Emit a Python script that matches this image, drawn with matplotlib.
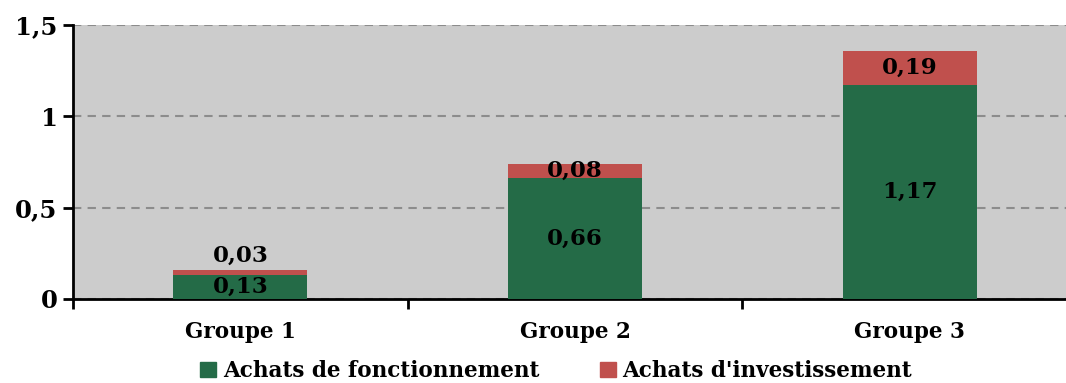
import numpy as np
import matplotlib.pyplot as plt
from matplotlib.patches import Patch

groupes = ['Groupe 1', 'Groupe 2', 'Groupe 3']
fonctionnement = [0.13, 0.66, 1.17]
investissement = [0.03, 0.08, 0.19]
lab_fonct = ['0,13', '0,66', '1,17']
lab_invest = ['0,03', '0,08', '0,19']
yticks = [0, 0.5, 1, 1.5]
ytick_labels = ['0', '0,5', '1', '1,5']

vert = '#246b47'
rouge = '#c0504d'
police = 'DejaVu Serif'

fig = plt.figure(figsize=(10.66, 3.83), dpi=100)
ax = fig.add_axes([73 / 1066, 1 - 299 / 383, 1004 / 1066, 274 / 383])
ax.set_facecolor('#cccccc')

x = np.arange(len(groupes))
ax.bar(x, fonctionnement, width=0.4, color=vert, zorder=3)
ax.bar(x, investissement, width=0.4, bottom=fonctionnement, color=rouge, zorder=3)

for i in range(len(groupes)):
    ax.text(x[i], fonctionnement[i] / 2, lab_fonct[i], ha='center', va='center',
            fontsize=16.5, fontweight='bold', family=police, zorder=4)
    y_inv = fonctionnement[i] + investissement[i] / 2
    if i == 0:
        y_inv += 0.09  # petite barre: étiquette au-dessus
    ax.text(x[i], y_inv, lab_invest[i], ha='center', va='center',
            fontsize=16.5, fontweight='bold', family=police, zorder=4)

ax.set_xlim(-0.5, 2.5)
ax.set_ylim(0, 1.5)
ax.set_yticks(yticks)
ax.set_yticklabels(ytick_labels, fontsize=17.5, fontweight='bold', family=police)
ax.set_xticks([-0.5, 0.5, 1.5, 2.5])
ax.set_xticklabels([])
ax.set_xticks(x, minor=True)
ax.set_xticklabels(groupes, minor=True, fontsize=15.5, fontweight='bold', family=police)
ax.tick_params(axis='x', which='minor', length=0, pad=16)
ax.tick_params(axis='x', which='major', length=7, width=2, direction='out')
ax.tick_params(axis='y', length=7, width=2, direction='out', pad=4)

ax.yaxis.grid(True, linestyle=(0, (4, 3)), color='#8c8c8c', linewidth=1.5, zorder=1)
for s in ['top', 'right']:
    ax.spines[s].set_visible(False)
ax.spines['left'].set_linewidth(2)
ax.spines['bottom'].set_linewidth(2)

handles = [Patch(color=vert, label='Achats de fonctionnement'),
           Patch(color=rouge, label="Achats d'investissement")]
fig.legend(handles=handles, loc='center', bbox_to_anchor=(556 / 1066, 1 - 371 / 383),
           ncol=2, frameon=False, handlelength=0.75, handleheight=0.75, handletextpad=0.3,
           columnspacing=2.8, prop={'family': police, 'weight': 'bold', 'size': 15.5})

fig.savefig('out.png', dpi=100)
